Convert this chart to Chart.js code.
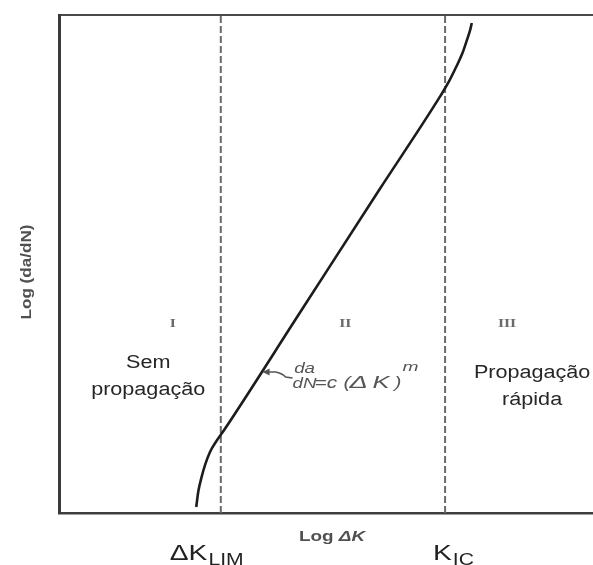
<!DOCTYPE html>
<html>
<head>
<meta charset="utf-8">
<script src="https://cdn.jsdelivr.net/npm/chart.js@4/dist/chart.umd.min.js"></script>
<style>
  html, body { margin: 0; padding: 0; background: #fff; }
  #wrap { width: 593px; height: 565px; }
</style>
</head>
<body>
<div id="wrap"><canvas id="c" width="593" height="565"></canvas></div>
<script>
// Fatigue crack growth curve, log(da/dN) against log(ΔK), in arbitrary log units
const curveLogK    = [2.57, 2.61, 2.67, 2.74, 2.83, 2.94, 3.07, 4.51, 6.01, 7.14, 7.30, 7.43, 7.55, 7.64, 7.70, 7.73];
const curveLogRate = [0.12, 0.44, 0.72, 0.98, 1.23, 1.43, 1.63, 4.02, 6.51, 8.37, 8.66, 8.94, 9.22, 9.50, 9.70, 9.84];

// Region boundaries
const thresholdLogK = 3.03;   // ΔK_LIM
const toughnessLogK = 7.23;   // K_IC

// Region labels
const regionNumerals = ['I', 'II', 'III'];
const regionNumeralX = [2.13, 5.36, 8.39];
const regionNotes    = [['Sem', 'propagação'], [], ['Propagação', 'rápida']];
const regionNoteX    = [1.67, 0, 8.86];

const X_MIN = 0, X_MAX = 10, Y_MIN = 0, Y_MAX = 10;

const curveData = curveLogK.map((k, i) => ({ x: k, y: curveLogRate[i] }));
const vline = k => [{ x: k, y: Y_MIN }, { x: k, y: Y_MAX }];

// Draw text stretched horizontally around an anchor
function wideText(ctx, txt, x, y, sx, align) {
  ctx.save();
  ctx.translate(x, y);
  ctx.scale(sx, 1);
  ctx.textAlign = align || 'center';
  ctx.fillText(txt, 0, 0);
  ctx.restore();
}

const annotations = {
  id: 'annotations',
  afterDraw(chart) {
    const { ctx, chartArea: a, scales: { x, y } } = chart;
    ctx.save();
    ctx.textBaseline = 'alphabetic';

    // axis titles
    ctx.fillStyle = '#505050';
    ctx.font = 'bold 14px "Liberation Sans"';
    ctx.save();
    ctx.translate(27, (a.top + a.bottom) / 2 + 8);
    ctx.rotate(-Math.PI / 2);
    ctx.scale(1.22, 1);
    ctx.textAlign = 'center';
    ctx.textBaseline = 'middle';
    ctx.fillText('Log (da/dN)', 0, 0);
    ctx.restore();

    const tx = (a.left + a.right) / 2 + 6, ty = a.bottom + 28;
    const st = 1.35;
    ctx.font = 'bold 14px "Liberation Sans"';
    const w1 = ctx.measureText('Log ').width;
    ctx.font = 'italic bold 14px "Liberation Sans"';
    const w2 = ctx.measureText('ΔK').width;
    const sx0 = tx - (w1 + w2) * st / 2;
    ctx.font = 'bold 14px "Liberation Sans"';
    wideText(ctx, 'Log ', sx0, ty, st, 'left');
    ctx.font = 'italic bold 14px "Liberation Sans"';
    wideText(ctx, 'ΔK', sx0 + w1 * st, ty, st, 'left');

    // roman numerals
    ctx.fillStyle = '#6a6a6a';
    ctx.font = 'bold 12px "Liberation Serif"';
    const ny = y.getPixelForValue(3.82);
    regionNumerals.forEach((n, i) => wideText(ctx, n, x.getPixelForValue(regionNumeralX[i]), ny + 4, 1.3));

    // region notes
    ctx.fillStyle = '#262626';
    ctx.font = '18px "Liberation Sans"';
    regionNotes.forEach((lines, i) => {
      lines.forEach((t, j) => {
        const base = i === 0 ? 368 : 378;
        wideText(ctx, t, x.getPixelForValue(regionNoteX[i]), base + j * 27, 1.2);
      });
    });

    // boundary labels below the axis
    ctx.fillStyle = '#222';
    const by = a.bottom + 47;
    const drawSub = (main, sub, left) => {
      ctx.font = '22px "Liberation Sans"';
      const mw = ctx.measureText(main).width * 1.28;
      wideText(ctx, main, left, by, 1.28, 'left');
      ctx.font = '16px "Liberation Sans"';
      wideText(ctx, sub, left + mw + 1, by + 5, 1.32, 'left');
    };
    drawSub('ΔK', 'LIM', x.getPixelForValue(thresholdLogK) - 51);
    drawSub('K', 'IC', x.getPixelForValue(toughnessLogK) - 12);

    // Paris law label with a leader pointing at the linear part
    const ey = 372;
    const x0 = x.getPixelForValue(curveLogK[6]), y0 = y.getPixelForValue(curveLogRate[6]);
    const x1 = x.getPixelForValue(curveLogK[7]), y1 = y.getPixelForValue(curveLogRate[7]);
    const cx = x0 + (y0 - ey) * (x1 - x0) / (y0 - y1);
    ctx.strokeStyle = '#555';
    ctx.fillStyle = '#555';
    ctx.lineWidth = 1.6;
    ctx.beginPath();
    ctx.moveTo(cx + 2, ey);
    ctx.lineTo(cx + 14, ey);
    ctx.quadraticCurveTo(cx + 20, ey + 1, cx + 24, ey + 5);
    ctx.lineTo(cx + 31, ey + 6);
    ctx.stroke();
    ctx.beginPath();
    ctx.moveTo(cx + 1, ey);
    ctx.lineTo(cx + 8, ey - 3.5);
    ctx.lineTo(cx + 8, ey + 3.5);
    ctx.closePath();
    ctx.fill();

    ctx.font = 'italic 15px "Liberation Sans"';
    wideText(ctx, 'da', cx + 43, ey + 1, 1.25);
    wideText(ctx, 'dN', cx + 43, ey + 16, 1.25);
    ctx.font = 'italic 16px "Liberation Sans"';
    wideText(ctx, '=c', cx + 53, ey + 16, 1.3, 'left');
    wideText(ctx, '(', cx + 82, ey + 16, 1.3, 'left');
    wideText(ctx, 'Δ', cx + 88, ey + 16, 1.7, 'left');
    wideText(ctx, 'K', cx + 111, ey + 16, 1.6, 'left');
    wideText(ctx, ')', cx + 133, ey + 16, 1.3, 'left');
    ctx.font = 'italic 12px "Liberation Sans"';
    wideText(ctx, 'm', cx + 141, ey - 1, 1.6, 'left');
    ctx.restore();
  }
};

const hiddenTicks = { display: false };
const noGrid = { display: false, drawTicks: false };

new Chart(document.getElementById('c'), {
  type: 'scatter',
  data: {
    datasets: [
      {
        label: 'da/dN',
        data: curveData,
        showLine: true,
        borderColor: '#1c1c1c',
        borderWidth: 2.6,
        pointRadius: 0,
        cubicInterpolationMode: 'monotone',
        fill: false
      },
      {
        label: 'ΔK_LIM',
        data: vline(thresholdLogK),
        showLine: true,
        borderColor: '#6a6a6a',
        borderWidth: 2,
        borderDash: [7, 3],
        pointRadius: 0
      },
      {
        label: 'K_IC',
        data: vline(toughnessLogK),
        showLine: true,
        borderColor: '#6a6a6a',
        borderWidth: 2,
        borderDash: [7, 3],
        pointRadius: 0
      }
    ]
  },
  options: {
    responsive: false,
    animation: false,
    events: [],
    layout: { padding: { left: 59, right: 0, top: 15, bottom: 52 } },
    plugins: { legend: { display: false }, tooltip: { enabled: false }, title: { display: false } },
    scales: {
      x: {
        type: 'linear', position: 'bottom', min: X_MIN, max: X_MAX,
        ticks: hiddenTicks, grid: noGrid, border: { display: true, color: '#3e3e3e', width: 2.5 }
      },
      xTop: {
        type: 'linear', position: 'top', min: X_MIN, max: X_MAX,
        ticks: hiddenTicks, grid: noGrid, border: { display: true, color: '#4a4a4a', width: 2 }
      },
      y: {
        type: 'linear', position: 'left', min: Y_MIN, max: Y_MAX,
        ticks: hiddenTicks, grid: noGrid, border: { display: true, color: '#3a3a3a', width: 3 }
      }
    }
  },
  plugins: [annotations]
});
</script>
</body>
</html>
